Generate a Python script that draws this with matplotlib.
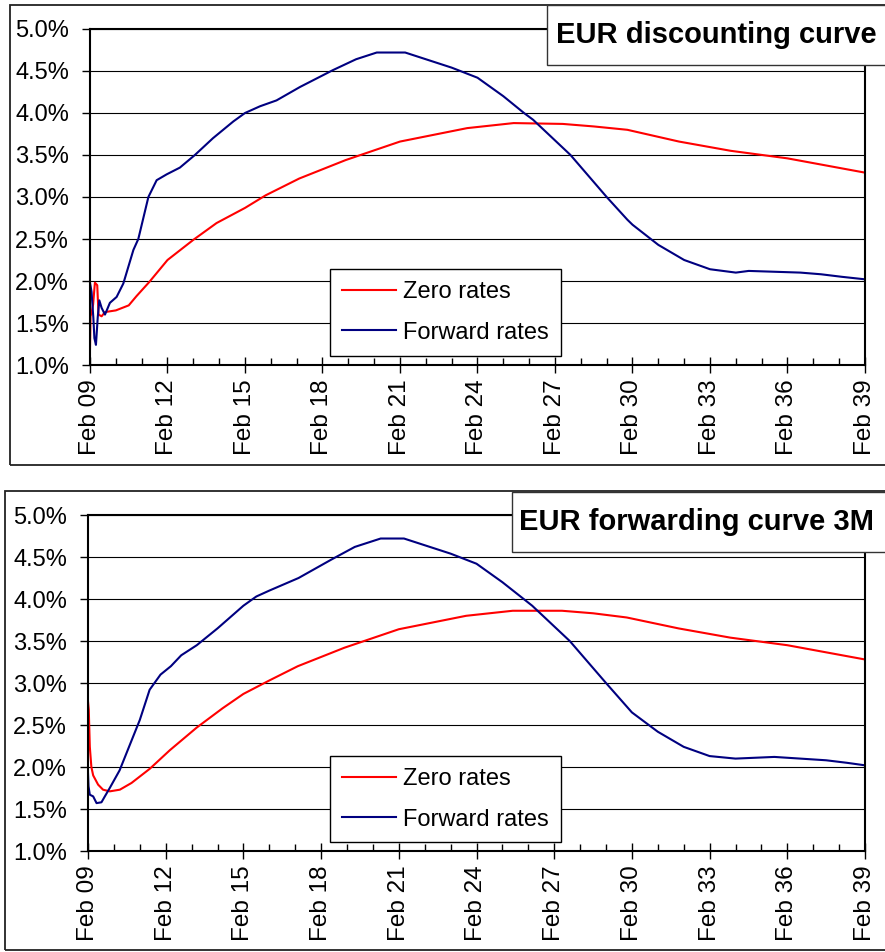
import matplotlib
matplotlib.use('Agg')
import matplotlib.pyplot as plt
from matplotlib.patches import Rectangle
from matplotlib.ticker import FixedLocator, MultipleLocator

plt.rcParams['font.family'] = ['Liberation Sans', 'DejaVu Sans']

# years as decimal numbers, rates in percent
tick_years = [2009, 2012, 2015, 2018, 2021, 2024, 2027, 2030, 2033, 2036, 2039]
tick_labels = ['Feb 09', 'Feb 12', 'Feb 15', 'Feb 18', 'Feb 21', 'Feb 24',
               'Feb 27', 'Feb 30', 'Feb 33', 'Feb 36', 'Feb 39']

disc_zero_t = [2009.0, 2009.02, 2009.06, 2009.12, 2009.19, 2009.28, 2009.33, 2009.45,
               2009.58, 2010.0, 2010.5, 2010.8, 2011.3, 2012.0, 2013.0, 2013.9, 2015.0,
               2015.8, 2017.1, 2018.9, 2021.0, 2023.6, 2025.4, 2027.3, 2028.5, 2029.8,
               2031.8, 2033.8, 2036.0, 2039.0]
disc_zero_r = [1.19, 1.58, 1.62, 1.72, 1.98, 1.95, 1.60, 1.58,
               1.63, 1.65, 1.71, 1.82, 1.99, 2.25, 2.49, 2.69, 2.87,
               3.02, 3.22, 3.44, 3.66, 3.82, 3.88, 3.87, 3.84, 3.80,
               3.66, 3.55, 3.46, 3.29]

disc_fwd_t = [2009.0, 2009.06, 2009.13, 2009.17, 2009.23, 2009.3, 2009.36, 2009.45,
              2009.58, 2009.77, 2010.03, 2010.29, 2010.68, 2010.87, 2011.26, 2011.58,
              2011.97, 2012.48, 2013.06, 2013.76, 2014.55, 2015.0, 2015.58, 2016.22,
              2017.13, 2018.4, 2019.3, 2020.1, 2021.2, 2022.3, 2023.0, 2024.0, 2025.0,
              2025.8, 2026.15, 2027.6, 2029.0, 2029.8, 2030.0, 2031.0, 2032.0, 2033.0,
              2034.0, 2034.5, 2035.5, 2036.5, 2037.3, 2038.1, 2039.0]
disc_fwd_r = [1.98, 1.87, 1.56, 1.32, 1.24, 1.57, 1.77, 1.68,
              1.60, 1.74, 1.81, 1.97, 2.37, 2.50, 3.00, 3.20,
              3.27, 3.35, 3.50, 3.70, 3.90, 4.00, 4.08, 4.15,
              4.31, 4.51, 4.64, 4.72, 4.72, 4.61, 4.54, 4.42, 4.20,
              4.00, 3.92, 3.50, 3.00, 2.73, 2.67, 2.43, 2.25, 2.14,
              2.10, 2.12, 2.11, 2.10, 2.08, 2.05, 2.02]

fwd3m_zero_t = [2009.0, 2009.03, 2009.07, 2009.13, 2009.2, 2009.39, 2009.58, 2009.84,
                2010.23, 2010.68, 2011.39, 2012.16, 2013.2, 2014.2, 2015.0, 2016.0,
                2017.1, 2018.9, 2021.0, 2023.6, 2025.4, 2027.3, 2028.5, 2029.8, 2031.8,
                2033.8, 2036.0, 2039.0]
fwd3m_zero_r = [2.78, 2.68, 2.24, 2.00, 1.90, 1.79, 1.73, 1.71,
                1.73, 1.81, 1.98, 2.20, 2.47, 2.70, 2.87, 3.03,
                3.20, 3.42, 3.64, 3.80, 3.86, 3.86, 3.83, 3.78, 3.65,
                3.54, 3.45, 3.28]

fwd3m_fwd_t = [2009.0, 2009.02, 2009.07, 2009.2, 2009.33, 2009.52, 2009.65, 2009.84,
               2010.22, 2010.61, 2011.0, 2011.38, 2011.8, 2012.2, 2012.6, 2013.2,
               2014.0, 2015.0, 2015.5, 2016.0, 2017.13, 2018.4, 2019.3, 2020.3, 2021.2,
               2022.3, 2023.0, 2024.0, 2025.0, 2026.15, 2027.6, 2029.0, 2030.0, 2031.0,
               2032.0, 2033.0, 2034.0, 2035.5, 2036.5, 2037.5, 2038.3, 2039.0]
fwd3m_fwd_r = [1.93, 1.77, 1.67, 1.65, 1.57, 1.58, 1.65, 1.75,
               1.96, 2.26, 2.56, 2.92, 3.10, 3.20, 3.33, 3.45,
               3.65, 3.92, 4.03, 4.10, 4.25, 4.47, 4.62, 4.72, 4.72,
               4.61, 4.54, 4.42, 4.20, 3.92, 3.50, 3.00, 2.65, 2.42,
               2.24, 2.13, 2.10, 2.12, 2.10, 2.08, 2.05, 2.02]

W, H = 885, 952
fig = plt.figure(figsize=(W / 100, H / 100), dpi=100)


def px_rect(x0, y0, x1, y1):
    # pixel box (top-left origin) -> figure fraction rect
    return [x0 / W, 1 - y1 / H, (x1 - x0) / W, (y1 - y0) / H]


def panel(box, frame, title_box, title_x, title, legend_xy, zero, fwd):
    ax = fig.add_axes(px_rect(*box))
    ax.plot(zero[0], zero[1], color='#FF0000', lw=1.5, label='Zero rates')
    ax.plot(fwd[0], fwd[1], color='#000080', lw=1.5, label='Forward rates')
    ax.set_xlim(2009, 2039)
    ax.set_ylim(1.0, 5.0)
    ax.set_yticks([1.0, 1.5, 2.0, 2.5, 3.0, 3.5, 4.0, 4.5, 5.0])
    ax.set_yticklabels(['%.1f%%' % v for v in ax.get_yticks()])
    ax.xaxis.set_major_locator(FixedLocator(tick_years))
    ax.set_xticklabels(tick_labels, rotation=90)
    ax.xaxis.set_minor_locator(MultipleLocator(1))
    ax.grid(axis='y', color='black', lw=0.8)
    ax.set_axisbelow(True)
    for s in ax.spines.values():
        s.set_linewidth(1.5)
    ax.tick_params(axis='y', direction='out', length=6, width=1, pad=9, labelsize=17)
    ax.tick_params(axis='x', which='major', direction='inout', length=11, width=1,
                   pad=5, labelsize=17.5)
    ax.tick_params(axis='x', which='minor', direction='in', length=5, width=1)
    ax.legend(loc='upper left', bbox_to_anchor=(legend_xy[0] / W, 1 - legend_xy[1] / H),
              bbox_transform=fig.transFigure, fontsize=17, frameon=True, fancybox=False,
              edgecolor='black', framealpha=1, borderpad=0.5, handlelength=2.3,
              handletextpad=0.3, labelspacing=0.8, borderaxespad=0)
    ax.get_legend().get_frame().set_linewidth(1.0)

    fr = px_rect(*frame)
    fig.patches.append(Rectangle((fr[0], fr[1]), fr[2], fr[3], transform=fig.transFigure,
                                 fill=False, edgecolor='#222222', lw=1.3, zorder=1))
    tb = px_rect(*title_box)
    fig.patches.append(Rectangle((tb[0], tb[1]), tb[2], tb[3], transform=fig.transFigure,
                                 facecolor='white', edgecolor='#333333', lw=1.0, zorder=2))
    fig.text(title_x / W, 1 - (title_box[1] + title_box[3]) / 2 / H, title,
             fontsize=21, fontweight='bold', va='center', ha='left', zorder=3)
    return ax


panel((90, 29, 865, 365), (10, 5, 895, 465), (547, 5, 895, 65), 556,
      'EUR discounting curve', (330, 269),
      (disc_zero_t, disc_zero_r), (disc_fwd_t, disc_fwd_r))
panel((88, 515, 865, 851), (5, 491, 895, 950), (512, 492, 895, 552), 519,
      'EUR forwarding curve 3M', (330, 756),
      (fwd3m_zero_t, fwd3m_zero_r), (fwd3m_fwd_t, fwd3m_fwd_r))

fig.savefig('out.png', dpi=100)
